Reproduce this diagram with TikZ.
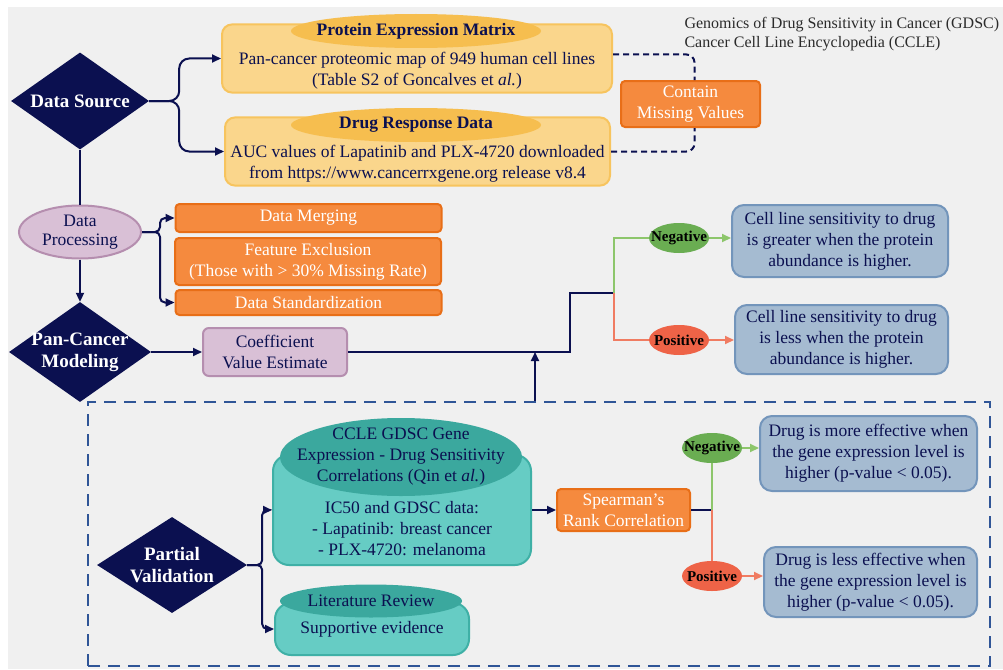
\documentclass[tikz,border=0pt]{standalone}
\usepackage{fontspec}
\setmainfont{Liberation Serif}
\usepackage{tikz}
\usetikzlibrary{arrows.meta, shapes.geometric}

\definecolor{dsnavy}{HTML}{0B1050}
\definecolor{bggray}{HTML}{F0F0F0}
\definecolor{ylwfill}{HTML}{FAD68C}
\definecolor{ylwline}{HTML}{F7C45E}
\definecolor{ylwhead}{HTML}{F6BE4F}
\definecolor{orgfill}{HTML}{F58A3E}
\definecolor{orgline}{HTML}{E86E17}
\definecolor{purfill}{HTML}{D9C0D6}
\definecolor{purline}{HTML}{B58EAF}
\definecolor{bluefill}{HTML}{A5BBD1}
\definecolor{blueline}{HTML}{7395BB}
\definecolor{tealfill}{HTML}{66CCC4}
\definecolor{tealline}{HTML}{3FB0A6}
\definecolor{teallid}{HTML}{3BA89E}
\definecolor{grnfill}{HTML}{6AAD52}
\definecolor{grnline}{HTML}{8DC66B}
\definecolor{redfill}{HTML}{EE6347}
\definecolor{redline}{HTML}{F07C62}
\definecolor{framecol}{HTML}{2F5597}
\definecolor{notegray}{HTML}{2B2B2B}

\tikzset{
  boxtext/.style={font=\fontsize{17.5}{21}\selectfont, text=dsnavy, align=center},
  arrowline/.style={draw=dsnavy, line width=2pt, -{Triangle[length=9pt,width=8pt]}},
  plainline/.style={draw=dsnavy, line width=2pt},
  dashlink/.style={draw=dsnavy, line width=2pt, dash pattern=on 6pt off 4pt},
  grnarrow/.style={draw=grnline, line width=2pt, -{Triangle[length=9pt,width=8pt]}},
  redarrow/.style={draw=redline, line width=2pt, -{Triangle[length=9pt,width=8pt]}},
  srcbox/.style={boxtext, rectangle, rounded corners=10pt, fill=ylwfill, draw=ylwline, line width=2pt},
  srchead/.style={ellipse, fill=ylwhead, inner sep=-12pt, minimum width=250pt, minimum height=34pt,
    font=\fontsize{17.5}{21}\selectfont\bfseries, text=dsnavy},
  decision/.style={diamond, fill=dsnavy, text=white, align=center, inner sep=-10pt, aspect=1.42,
    font=\fontsize{19}{22}\selectfont\bfseries},
  procbox/.style={boxtext, text=white, rectangle, rounded corners=4pt, fill=orgfill, draw=orgline,
    line width=2pt, minimum width=266pt, inner ysep=1pt},
  purbox/.style={boxtext, rectangle, rounded corners=6pt, fill=purfill, draw=purline, line width=2pt},
  purell/.style={boxtext, ellipse, fill=purfill, draw=purline, line width=2pt, inner sep=0pt,
    font=\fontsize{17.5}{19}\selectfont},
  resbox/.style={boxtext, rectangle, rounded corners=12pt, fill=bluefill, draw=blueline, line width=2pt},
  signneg/.style={ellipse, fill=grnfill, inner sep=-7pt, minimum width=60pt, minimum height=30pt,
    font=\fontsize{15}{18}\selectfont\bfseries, text=black},
  signpos/.style={signneg, fill=redfill},
  cylbody/.style={boxtext, rectangle, rounded corners=16pt, fill=tealfill, draw=tealline, line width=2pt},
  cyllid/.style={boxtext, ellipse, fill=teallid},
  valframe/.style={draw=framecol, line width=2.5pt, dash pattern=on 12pt off 8pt, inner sep=0pt},
  srcnote/.style={font=\fontsize{16}{19}\selectfont, text=notegray, align=left}
}

\begin{document}
\begin{tikzpicture}[x=1pt, y=-1pt]
\useasboundingbox (0,0) rectangle (1003,669);
\fill[white] (0,0) rectangle (1003,669);
\fill[bggray] (8,7) rectangle (1003,669);

% Data source
\node[decision, minimum width=138pt, minimum height=97pt] (src) at (80,101) {Data Source};
\node[srcbox, minimum width=390pt, minimum height=65pt] (pem) at (417,58.5)
  {\strut\\[1pt]Pan-cancer proteomic map of 949 human cell lines\\(Table S2 of Goncalves et \textit{al.})};
\node[srchead] (pemhead) at (416,31) {Protein Expression Matrix};
\node[srcbox, minimum width=385pt, minimum height=63pt] (drd) at (417.5,151.5)
  {\strut\\[1pt]AUC values of Lapatinib and PLX-4720 downloaded\\from https://www.cancerrxgene.org release v8.4};
\node[srchead] (drdhead) at (416,125) {Drug Response Data};
\node[procbox, minimum width=139pt, minimum height=46pt] (miss) at (690.5,104) {Contain\\Missing Values};
\node[srcnote, anchor=north west] (dbnames) at (681,14)
  {Genomics of Drug Sensitivity in Cancer (GDSC)\\Cancer Cell Line Encyclopedia (CCLE)};

\draw[arrowline, rounded corners=10pt] (src.east) -- ++(30,0) |- (pem.west);
\draw[arrowline, rounded corners=10pt] (src.east) -- ++(30,0) |- (drd.west);
\draw[dashlink, rounded corners=8pt] ([yshift=4pt]pem.east) -| ([xshift=4pt]miss.north);
\draw[dashlink, rounded corners=8pt] (drd.east) -| ([xshift=4pt]miss.south);

% Data processing
\node[purell, minimum width=122pt, minimum height=53pt] (proc) at (80,232) {Data\\Processing};
\draw[plainline] (src.south) -- (proc.north);
\node[procbox, minimum height=28pt] (merge) at (308.5,218) {Data Merging};
\node[procbox, minimum height=47pt] (excl) at (308,261.5) {Feature Exclusion\\(Those with > 30\% Missing Rate)};
\node[procbox, minimum height=25pt] (stand) at (308.5,302.5) {Data Standardization};
\draw[arrowline, rounded corners=5pt] (proc.east) -- ++(18,0) |- (merge.west);
\draw[arrowline, rounded corners=5pt] (proc.east) -- ++(18,0) |- (stand.west);

% Pan-cancer modeling
\node[decision, minimum width=142pt, minimum height=100pt, text depth=4pt] (model) at (80,352) {Pan-Cancer\\Modeling};
\draw[arrowline] (proc.south) -- (model.north);
\node[purbox, minimum width=144pt, minimum height=48pt] (coef) at (275,352) {Coefficient\\Value Estimate};
\draw[arrowline] (model.east) -- (coef.west);

\coordinate (step1) at (570,293);
\coordinate (fork1) at (614,293);
\draw[plainline] (coef.east) -| (step1) -- (fork1);
\node[signneg] (neg1) at (679,238) {Negative};
\node[signpos] (pos1) at (679,340) {Positive};
\draw[draw=grnline, line width=2pt] (fork1) |- (neg1.west);
\draw[draw=redline, line width=2pt] (fork1) |- (pos1.west);
\node[resbox, minimum width=216pt, minimum height=72pt] (sens1) at (840,241)
  {Cell line sensitivity to drug\\is greater when the protein\\abundance is higher.};
\node[resbox, minimum width=213pt, minimum height=69pt] (sens2) at (841.5,339.5)
  {Cell line sensitivity to drug\\is less when the protein\\abundance is higher.};
\draw[grnarrow] (neg1.east) -- (neg1.east -| sens1.west);
\draw[redarrow] (pos1.east) -- (pos1.east -| sens2.west);

% Partial validation
\node[valframe, minimum width=902pt, minimum height=264pt] (valid) at (539,534) {};
\coordinate (join1) at (535,352);
\draw[arrowline] (join1 |- valid.north) -- (join1);
\node[decision, minimum width=150pt, minimum height=96pt] (partial) at (172,565) {Partial\\Validation};
\node[cylbody, minimum width=258pt, minimum height=110pt] (corr) at (402,510)
  {\strut\\[14pt]IC50 and GDSC data:\\- Lapatinib: breast cancer\\- PLX-4720: melanoma};
\node[cyllid, minimum width=242pt, minimum height=78pt, inner sep=-19pt] (corrlid) at (401,457)
  {CCLE GDSC Gene\\Expression - Drug Sensitivity\\Correlations (Qin et \textit{al.})};
\node[cylbody, minimum width=194pt, minimum height=52pt] (lit) at (372,629) {Supportive evidence};
\node[cyllid, minimum width=182pt, minimum height=33pt, inner sep=0pt] (litlid) at (371,601) {Literature Review};
\draw[arrowline, rounded corners=5pt] (partial.east) -- ++(15,0) |- (corr.west);
\draw[arrowline, rounded corners=5pt] (partial.east) -- ++(15,0) |- (lit.west);

\node[procbox, minimum width=133pt, minimum height=42pt] (spear) at (623.5,510) {Spearman’s\\Rank Correlation};
\draw[arrowline] (corr.east) -- (spear.west);
\coordinate (fork2) at (712,510);
\draw[plainline] (spear.east) -- (fork2);
\node[signneg] (neg2) at (712,448) {Negative};
\node[signpos] (pos2) at (712,576) {Positive};
\draw[draw=grnline, line width=2pt] (fork2) -- (neg2.south);
\draw[draw=redline, line width=2pt] (fork2) -- (pos2.north);
\node[resbox, minimum width=217pt, minimum height=75pt] (eff1) at (868.5,453.5)
  {Drug is more effective when\\the gene expression level is\\higher (p-value < 0.05).};
\node[resbox, minimum width=213pt, minimum height=70pt] (eff2) at (870.5,582)
  {Drug is less effective when\\the gene expression level is\\higher (p-value < 0.05).};
\draw[grnarrow] (neg2.east) -- (neg2.east -| eff1.west);
\draw[redarrow] (pos2.east) -- (pos2.east -| eff2.west);
\end{tikzpicture}
\end{document}
